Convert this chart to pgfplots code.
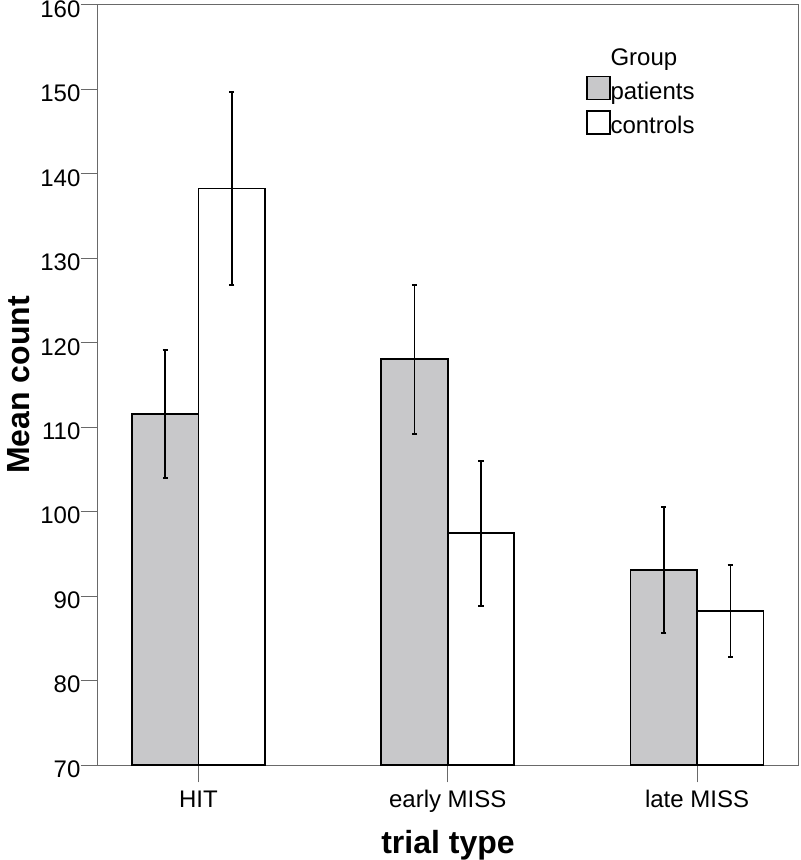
\documentclass[border=0pt]{standalone}
\usepackage{fontspec}
\setmainfont{Liberation Sans}
\usepackage{pgfplots}
\pgfplotsset{compat=1.18}
\definecolor{patfill}{RGB}{200,200,202}
\definecolor{axgray}{RGB}{105,105,105}
\begin{document}
\begin{tikzpicture}
\useasboundingbox (-73.5pt,-71.25pt) rectangle (526.5pt,573.75pt);
\begin{axis}[
  scale only axis, width=525pt, height=570pt,
  at={(0,0)}, anchor=south west,
  ybar=0pt, bar width=49.9pt,
  xmin=-0.403, xmax=2.405, ymin=70, ymax=160,
  ytick={70,80,...,160},
  xtick={0,1,2}, xticklabels={HIT,early MISS,late MISS},
  tick pos=left, tick align=outside, major tick length=13pt,
  axis line style={axgray, line width=0.75pt},
  tick style={axgray, line width=0.75pt},
  /pgf/number format/assume math mode=true,
  ticklabel style={font=\fontsize{18}{18}\selectfont},
  yticklabel style={anchor=east, inner sep=0pt, yshift=-3pt},
  xticklabel style={anchor=north, inner sep=0pt, yshift=-6pt},
  every axis x label/.style={at={(axis description cs:0.5,-0.1158)}, anchor=base, font=\bfseries\fontsize{24}{24}\selectfont},
  every axis y label/.style={at={(axis description cs:-0.0985,0.5)}, rotate=90, anchor=base, font=\bfseries\fontsize{24}{24}\selectfont},
  xlabel={trial type}, ylabel={Mean count},
  legend style={draw=none, fill=none, inner sep=0pt, at={(axis description cs:0.697,0.9438)}, anchor=north west,
    font=\fontsize{18}{18}\selectfont, row sep=4pt, column sep=0pt,
    cells={anchor=base west}, nodes={inner sep=0pt, text height=13pt, text depth=4pt, anchor=base west}},
]
\addlegendimage{empty legend}
\addlegendentry{Group}
\addplot[fill=patfill, draw=black, line width=1.2pt,
  legend image code/.code={\draw[fill=patfill, draw=black, line width=1pt] (0pt,0pt) rectangle (17.25pt,17.25pt);},
  error bars/.cd, y dir=both, y explicit,
  error bar style={line width=1.2pt, black},
  error mark options={rotate=90, mark size=2pt, line width=1.5pt, black}]
  coordinates {(0,111.55) +- (0,7.6) (1,118.05) +- (0,8.8) (2,93.1) +- (0,7.5)};
\addlegendentry{patients}
\addplot[fill=white, draw=black, line width=1.2pt,
  legend image code/.code={\draw[fill=white, draw=black, line width=1pt] (0pt,0pt) rectangle (17.25pt,17.25pt);},
  error bars/.cd, y dir=both, y explicit,
  error bar style={line width=1.2pt, black},
  error mark options={rotate=90, mark size=2pt, line width=1.5pt, black}]
  coordinates {(0,138.25) +- (0,11.4) (1,97.45) +- (0,8.6) (2,88.25) +- (0,5.47)};
\addlegendentry{controls}
\end{axis}
\end{tikzpicture}
\end{document}
